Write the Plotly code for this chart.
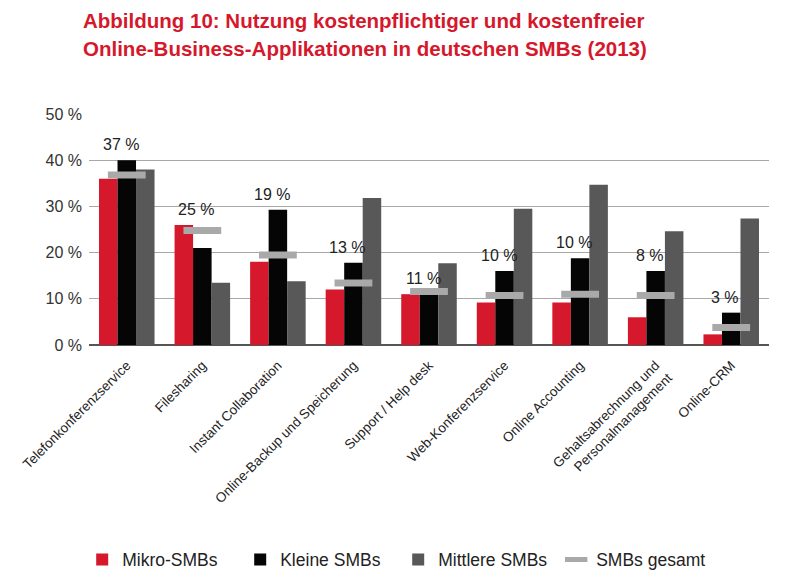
import plotly.graph_objects as go


categories = ["Telefonkonferenzservice", "Filesharing", "Instant Collaboration",
              "Online-Backup und Speicherung", "Support / Help desk", "Web-Konferenzservice",
              "Online Accounting", "Gehaltsabrechnung und<br>Personalmanagement", "Online-CRM"]

mikro_smbs    = [36, 26, 18, 12, 11, 9.2, 9.2, 6, 2.3]
kleine_smbs   = [40, 21, 29.3, 17.8, 11, 16, 18.8, 16, 7]
mittlere_smbs = [38, 13.5, 13.8, 31.8, 17.7, 29.5, 34.7, 24.6, 27.4]
smbs_gesamt   = [36.8, 24.8, 19.5, 13.4, 11.6, 10.7, 11, 10.7, 3.8]
gesamt_labels = ["37 %", "25 %", "19 %", "13 %", "11 %", "10 %", "10 %", "8 %", "3 %"]

y_ticks = [0, 10, 20, 30, 40, 50]
y_tick_labels = ["0 %", "10 %", "20 %", "30 %", "40 %", "50 %"]

title_lines = ["Abbildung 10: Nutzung kostenpflichtiger und kostenfreier",
               "Online-Business-Applikationen in deutschen SMBs (2013)"]

_red = "#d5182b"
_black = "#050505"
_dark_gray = "#585858"
_light_gray = "#a9a9a9"
_font = "Arial, Liberation Sans, Helvetica, sans-serif"


# --------------------------------------------------------------------------------------------
def make_chart():
    """ """
    fig = go.Figure()

    # Grouped bars
    fig.add_trace(go.Bar(x=categories, y=mikro_smbs, name="Mikro-SMBs", marker_color=_red, marker_line_width=0))
    fig.add_trace(go.Bar(x=categories, y=kleine_smbs, name="Kleine SMBs", marker_color=_black, marker_line_width=0))
    fig.add_trace(go.Bar(x=categories, y=mittlere_smbs, name="Mittlere SMBs", marker_color=_dark_gray, marker_line_width=0))

    # Overall value as a grey dash across the middle bar
    fig.add_trace(go.Scatter(x=categories, y=smbs_gesamt, name="SMBs gesamt", mode="markers",
                             marker=dict(symbol="line-ew", size=27, color=_light_gray,
                                         line=dict(color=_light_gray, width=7))))

    # Value labels above each group
    for cat, r, b, txt in zip(categories, mikro_smbs, kleine_smbs, gesamt_labels):
        fig.add_annotation(x=cat, y=max(r, b), text=txt, showarrow=False, yanchor="bottom",
                           yshift=5, xshift=-6, font=dict(size=16, color="#222222", family=_font))

    # Title, two red bold lines
    for i, line in enumerate(title_lines):
        fig.add_annotation(xref="paper", yref="paper", x=-0.012, y=1.404 - i*0.119, xanchor="left",
                           yanchor="middle", text="<b>%s</b>" % line, showarrow=False,
                           font=dict(size=20.5, color=_red, family=_font))

    # page body has an 8px margin, so the margins are shifted by it
    fig.update_layout(
        barmode="group", bargap=0.265, bargroupgap=0,
        plot_bgcolor="white", paper_bgcolor="white",
        width=800, height=582, autosize=False,
        margin={'l': 75, 'r': 39, 't': 106, 'b': 245, 'pad': 0},
        font=dict(family=_font, color="#222222"),
        showlegend=True,
        legend=dict(orientation="h", x=-0.01, xanchor="left", y=-0.929, yanchor="middle",
                    entrywidth=113, entrywidthmode="pixels", itemwidth=30,
                    font=dict(size=17.5, color="#222222", family=_font), traceorder="normal"),
    ).update_xaxes(range=[-0.5, len(categories) - 0.5], tickangle=-45, ticklabelstandoff=9,
                   tickfont=dict(size=13.5, color="#222222"), showline=False, ticks="", showgrid=False
    ).update_yaxes(range=[0, 50], tickvals=y_ticks, ticktext=y_tick_labels, showgrid=True,
                   gridcolor="#a8a8a8", gridwidth=1, zeroline=True, zerolinecolor="#555555",
                   zerolinewidth=2, showline=False, ticks="", ticklabelstandoff=6,
                   tickfont=dict(size=16, color="#333333"))

    return fig


fig = make_chart()
fig.write_html("out.html")
